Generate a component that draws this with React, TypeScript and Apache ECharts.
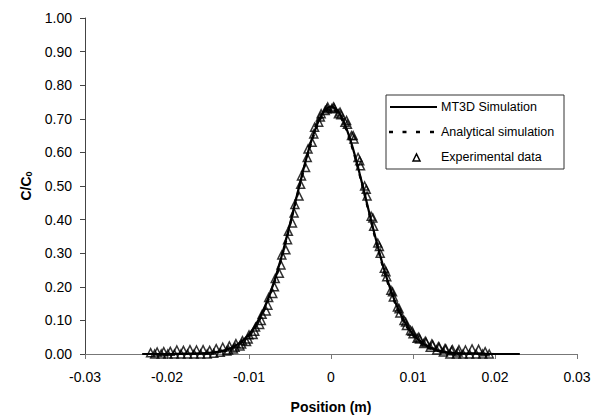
import React, { useEffect, useRef } from "react";
import * as echarts from "echarts";

const positions = [
  -0.023, -0.02, -0.018, -0.016, -0.015, -0.014, -0.0135, -0.013, -0.0125, -0.012, -0.0115, -0.011,
  -0.0105, -0.01, -0.0095, -0.009, -0.0085, -0.008, -0.0075, -0.007, -0.0065, -0.006, -0.0055, -0.005,
  -0.0045, -0.004, -0.0035, -0.003, -0.0025, -0.002, -0.0015, -0.001, -0.0005, 0, 0.0005, 0.001, 0.0015,
  0.002, 0.0025, 0.003, 0.0035, 0.004, 0.0045, 0.005, 0.0055, 0.006, 0.0065, 0.007, 0.0075, 0.008,
  0.0085, 0.009, 0.0095, 0.01, 0.0105, 0.011, 0.0115, 0.012, 0.0125, 0.013, 0.0135, 0.014, 0.015, 0.016,
  0.018, 0.02, 0.023,
];

const mt3dValues = [
  0, 0, 0.001, 0.002, 0.003, 0.006, 0.008, 0.011, 0.015, 0.02, 0.027, 0.036,
  0.046, 0.059, 0.075, 0.095, 0.118, 0.145, 0.176, 0.211, 0.25, 0.293, 0.339, 0.387,
  0.437, 0.487, 0.536, 0.583, 0.626, 0.663, 0.694, 0.717, 0.731, 0.736, 0.731, 0.717, 0.694,
  0.663, 0.626, 0.583, 0.536, 0.487, 0.437, 0.387, 0.339, 0.293, 0.25, 0.211, 0.176, 0.145,
  0.118, 0.095, 0.075, 0.059, 0.046, 0.036, 0.027, 0.02, 0.015, 0.011, 0.008, 0.006, 0.003, 0.002,
  0.001, 0, 0,
];

const analyticalValues = [
  0, 0, 0, 0.001, 0.002, 0.005, 0.007, 0.009, 0.013, 0.018, 0.024, 0.032,
  0.042, 0.055, 0.071, 0.09, 0.113, 0.14, 0.171, 0.206, 0.245, 0.288, 0.334, 0.383,
  0.433, 0.483, 0.532, 0.579, 0.621, 0.658, 0.689, 0.711, 0.725, 0.73, 0.725, 0.711, 0.689,
  0.658, 0.621, 0.579, 0.532, 0.483, 0.433, 0.383, 0.334, 0.288, 0.245, 0.206, 0.171, 0.14,
  0.113, 0.09, 0.071, 0.055, 0.042, 0.032, 0.024, 0.018, 0.013, 0.009, 0.007, 0.005, 0.002, 0.001,
  0, 0, 0,
];

const expX = [
  -0.022, -0.0212, -0.0204, -0.0196, -0.0188, -0.018, -0.0172, -0.0164, -0.0156, -0.0148, -0.014,
  -0.0132, -0.0124, -0.0116, -0.0108, -0.01, -0.0092, -0.0084, -0.0076, -0.0068, -0.006, -0.0052,
  -0.0044, -0.0036, -0.0028, -0.002, -0.0012, -0.0004, 0.0004, 0.0012, 0.002, 0.0028, 0.0036, 0.0044,
  0.0052, 0.006, 0.0068, 0.0076, 0.0084, 0.0092, 0.01, 0.0108, 0.0116, 0.0124, 0.0132, 0.014, 0.0148,
  0.0156, 0.0164, 0.0172, 0.018, 0.0188,
  -0.0215, -0.0207, -0.0199, -0.0191, -0.0183, -0.0175, -0.0167, -0.0159, -0.0151, -0.0143, -0.0135,
  -0.0127, -0.0119, -0.0111, -0.0103, -0.0095, -0.0087, -0.0079, -0.0071, -0.0063, -0.0055, -0.0047,
  -0.0039, -0.0031, -0.0023, -0.0015, -0.0007, 0.0001, 0.0009, 0.0017, 0.0025, 0.0033, 0.0041, 0.0049,
  0.0057, 0.0065, 0.0073, 0.0081, 0.0089, 0.0097, 0.0105, 0.0113, 0.0121, 0.0129, 0.0137, 0.0145,
  0.0153, 0.0161, 0.0169, 0.0177, 0.0185, 0.0193,
  -0.0125, -0.0117, -0.0109, -0.0101, -0.0093, -0.0085, -0.0077, -0.0069, -0.0061, -0.0053, -0.0045,
  -0.0037, -0.0029, -0.0021, -0.0013, -0.0005, 0.0003, 0.0011, 0.0019, 0.0027, 0.0035, 0.0043, 0.0051,
  0.0059, 0.0067, 0.0075, 0.0083, 0.0091, 0.0099, 0.0107, 0.0115, 0.0123, 0.0131, 0.0139, 0.0147, 0.0155,
];

const expY = [
  0.004, 0.006, 0.007, 0.008, 0.012, 0.011, 0.013, 0.012, 0.013, 0.011, 0.016,
  0.02, 0.024, 0.031, 0.04, 0.057, 0.08, 0.118, 0.168, 0.225, 0.295, 0.365,
  0.445, 0.53, 0.61, 0.675, 0.715, 0.735, 0.732, 0.712, 0.684, 0.64, 0.56, 0.47,
  0.38, 0.3, 0.23, 0.17, 0.122, 0.085, 0.06, 0.045, 0.035, 0.027, 0.02, 0.015, 0.013,
  0.013, 0.012, 0.015, 0.014, 0.007,
  0, 0, 0, 0, 0, 0, 0, 0, 0, 0.002, 0.005,
  0.009, 0.015, 0.024, 0.037, 0.058, 0.088, 0.128, 0.18, 0.24, 0.31, 0.39,
  0.47, 0.555, 0.63, 0.69, 0.725, 0.73, 0.715, 0.69, 0.65, 0.585, 0.5, 0.41,
  0.33, 0.255, 0.19, 0.14, 0.1, 0.07, 0.047, 0.031, 0.02, 0.012, 0.006, 0,
  0, 0, 0, 0, 0, 0,
  0.012, 0.02, 0.03, 0.045, 0.068, 0.1, 0.145, 0.2, 0.265, 0.34, 0.42,
  0.505, 0.585, 0.655, 0.705, 0.73, 0.735, 0.72, 0.695, 0.65, 0.575, 0.49, 0.405,
  0.32, 0.245, 0.185, 0.135, 0.095, 0.068, 0.05, 0.038, 0.03, 0.022, 0.016, 0.01, 0.006,
];

const legendLabels = ["MT3D Simulation", "Analytical simulation", "Experimental data"];

const FONT = "'Liberation Sans', Arial, sans-serif";

export default function App() {
  const ref = useRef<HTMLDivElement>(null);
  useEffect(() => {
    if (!ref.current) return;
    const chart = echarts.init(ref.current, undefined, { renderer: "svg" });
    const dash = (x1: number, x2: number) => ({
      type: "line",
      shape: { x1, y1: 132, x2, y2: 132 },
      style: { stroke: "#000", lineWidth: 2.5 },
    });
    chart.setOption({
      animation: false,
      backgroundColor: "#fff",
      grid: { left: 85, right: 18, top: 18, bottom: 62 },
      xAxis: {
        type: "value",
        min: -0.03,
        max: 0.03,
        interval: 0.01,
        name: "Position (m)",
        nameLocation: "middle",
        nameGap: 46,
        nameTextStyle: { fontFamily: FONT, fontSize: 14, fontWeight: "bold", color: "#000" },
        axisLine: { onZero: false, lineStyle: { color: "#777", width: 1 } },
        axisTick: { show: true, length: 5, lineStyle: { color: "#777" } },
        axisLabel: {
          fontFamily: FONT,
          fontSize: 14,
          color: "#000",
          margin: 16,
          formatter: (v: number) => (Math.abs(v) < 1e-9 ? "0" : v.toFixed(2)),
        },
        splitLine: { show: false },
      },
      yAxis: {
        type: "value",
        min: 0,
        max: 1,
        interval: 0.1,
        name: "{a|C/C}{b|0}",
        nameLocation: "middle",
        nameGap: 52,
        nameTextStyle: {
          fontFamily: FONT,
          fontSize: 14,
          fontWeight: "bold",
          color: "#000",
          rich: {
            a: { fontFamily: FONT, fontSize: 14, fontWeight: "bold", color: "#000", lineHeight: 18, verticalAlign: "bottom" },
            b: { fontFamily: FONT, fontSize: 9, fontWeight: "bold", color: "#000", lineHeight: 18, verticalAlign: "bottom" },
          },
        },
        axisLine: { show: true, onZero: false, lineStyle: { color: "#444", width: 1 } },
        axisTick: { show: true, length: 5, lineStyle: { color: "#444" } },
        axisLabel: {
          fontFamily: FONT,
          fontSize: 14,
          color: "#000",
          margin: 13,
          formatter: (v: number) => v.toFixed(2),
        },
        splitLine: { show: false },
      },
      graphic: [
        {
          type: "group",
          z: 100,
          children: [
            { type: "rect", shape: { x: 386, y: 95, width: 178, height: 74 }, style: { fill: "#fff", stroke: "#333", lineWidth: 1 } },
            { type: "line", shape: { x1: 390, y1: 107, x2: 437, y2: 107 }, style: { stroke: "#000", lineWidth: 2 } },
            dash(389, 393),
            dash(402.5, 406.5),
            dash(416, 420),
            dash(430, 434),
            { type: "polygon", shape: { points: [[413, 161], [416.5, 154], [420, 161]] }, style: { fill: "none", stroke: "#000", lineWidth: 1.5 } },
            { type: "text", x: 441, y: 107, style: { text: legendLabels[0], fontFamily: FONT, fontSize: 12.5, fill: "#000", verticalAlign: "middle" } },
            { type: "text", x: 441, y: 132, style: { text: legendLabels[1], fontFamily: FONT, fontSize: 12.5, fill: "#000", verticalAlign: "middle" } },
            { type: "text", x: 441, y: 157, style: { text: legendLabels[2], fontFamily: FONT, fontSize: 12.5, fill: "#000", verticalAlign: "middle" } },
          ],
        },
      ],
      series: [
        {
          name: legendLabels[0],
          type: "line",
          symbol: "none",
          smooth: true,
          data: positions.map((x, i) => [x, mt3dValues[i]]),
          lineStyle: { color: "#000", width: 2.2, type: "solid" },
          itemStyle: { color: "#000" },
          z: 2,
        },
        {
          name: legendLabels[1],
          type: "line",
          symbol: "none",
          smooth: true,
          data: positions.map((x, i) => [x, analyticalValues[i]]),
          lineStyle: { color: "#000", width: 2.2, type: [4, 6] },
          itemStyle: { color: "#000" },
          z: 3,
        },
        {
          name: legendLabels[2],
          type: "scatter",
          symbol: "triangle",
          symbolSize: 8,
          data: expX.map((x, i) => [x, expY[i]]),
          itemStyle: { color: "rgba(255,255,255,0)", borderColor: "#000", borderWidth: 1.5 },
          z: 4,
        },
      ],
    });
    return () => chart.dispose();
  }, []);
  return <div ref={ref} style={{ width: 595, height: 419, position: "absolute", left: 0, top: 0 }} />;
}
